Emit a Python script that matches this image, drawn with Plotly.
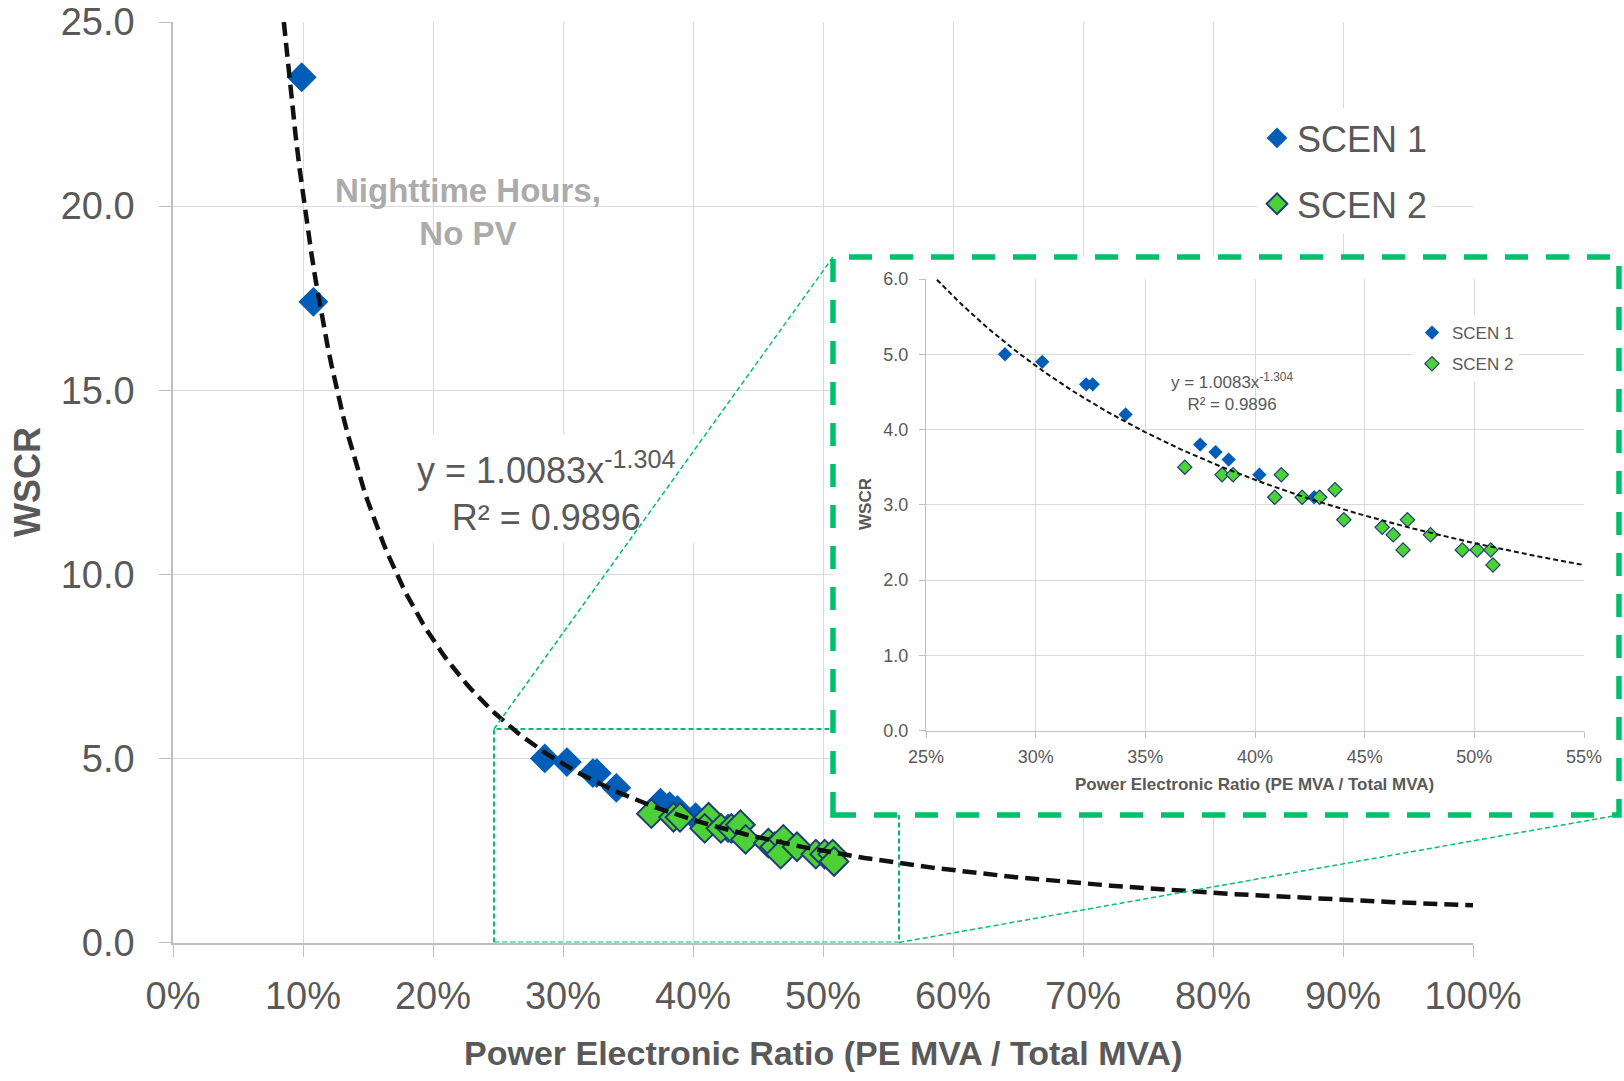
import numpy as np
import plotly.graph_objects as go

# ---------------- data ----------------
scen1_x = [0.099, 0.108, 0.286, 0.303, 0.323, 0.326, 0.341, 0.375, 0.382, 0.388, 0.402, 0.427]
scen1_y = [23.5, 17.4, 5.0, 4.9, 4.6, 4.6, 4.2, 3.8, 3.7, 3.6, 3.4, 3.1]

scen2_x = [0.368, 0.385, 0.390, 0.412, 0.409, 0.4215, 0.4295, 0.4365, 0.4405,
           0.458, 0.463, 0.4695, 0.4675, 0.480, 0.4945, 0.5013, 0.5075, 0.5085]
scen2_y = [3.5, 3.4, 3.4, 3.4, 3.1, 3.1, 3.1, 3.2, 2.8,
           2.7, 2.6, 2.8, 2.4, 2.6, 2.4, 2.4, 2.4, 2.2]

fit_a = 1.0083
fit_b = -1.304
fit_label = "y = 1.0083x<sup>-1.304</sup><br>R² = 0.9896"
series_names = ["SCEN 1", "SCEN 2"]

main_x_ticks = [i / 10 for i in range(11)]
main_y_ticks = [0, 5, 10, 15, 20, 25]
inset_x_ticks = [0.25, 0.30, 0.35, 0.40, 0.45, 0.50, 0.55]
inset_y_ticks = [0, 1, 2, 3, 4, 5, 6]

# ---------------- styling ----------------
OFF = 0                      # page body margin (removed by post_script)
W, H = 1624, 1081
BLUE = "#005EB8"
GREEN = "#4CD137"
EDGE = "#1F3C78"
BOXGREEN = "#00C06B"
TXT = "#595959"
GRID = "#D9D9D9"
AXL = "#BFBFBF"
FONT = "Liberation Sans, Arial, sans-serif"

# pixel boxes (screen coordinates)
mL, mR, mT, mB = 173, 1473, 22, 942.5
iL, iR, iT, iB = 926, 1584, 279, 730.5
bL, bR, bT, bB = 833, 1619, 257, 815  # big dashed inset frame

fx = lambda p: (p - OFF) / W
fy = lambda p: 1 - (p - OFF) / H

main_xr = [0, 1]
main_yr = [0, 25]
inset_xr = [0.25, 0.55]
inset_yr = [0, 6]


def data_from_px(px, py):
    x = main_xr[0] + (px - mL) / (mR - mL) * (main_xr[1] - main_xr[0])
    y = main_yr[0] + (mB - py) / (mB - mT) * (main_yr[1] - main_yr[0])
    return x, y


def px_from_data(x, y):
    px = mL + (x - main_xr[0]) / (main_xr[1] - main_xr[0]) * (mR - mL)
    py = mB - (y - main_yr[0]) / (main_yr[1] - main_yr[0]) * (mB - mT)
    return px, py


def cover(px0, py0, px1, py1):
    x0, y0 = data_from_px(px0, py0)
    x1, y1 = data_from_px(px1, py1)
    return go.Scatter(x=[x0, x1, x1, x0, x0], y=[y1, y1, y0, y0, y1],
                      mode="lines", fill="toself", fillcolor="white", line=dict(width=0),
                      hoverinfo="skip", showlegend=False, xaxis="x", yaxis="y")


fig = go.Figure()

# small zoom box on main chart (drawn first so the inset cover hides its upper-right part)
zx0, zy1 = data_from_px(494, 729)
zx1, _ = data_from_px(899, 942.5)
zy0 = main_yr[0]
fig.add_trace(go.Scatter(x=[zx0, zx1, zx1, zx0, zx0], y=[zy0, zy0, zy1, zy1, zy0], mode="lines",
                         line=dict(color=BOXGREEN, width=2, dash="5px,3px"),
                         hoverinfo="skip", showlegend=False, xaxis="x", yaxis="y"))

# white covers (hide main gridlines behind inset / equation box)
fig.add_trace(cover(bL, bT, W + 100, bB))
fig.add_trace(cover(398, 434, 702, 543))

# main traces
fig.add_trace(go.Scatter(x=scen1_x, y=scen1_y, mode="markers", name=series_names[0],
                         marker=dict(symbol="diamond", size=23, color=BLUE, line=dict(width=0)),
                         xaxis="x", yaxis="y", legend="legend", legendgroup="a"))
fig.add_trace(go.Scatter(x=scen2_x, y=scen2_y, mode="markers", name=series_names[1],
                         marker=dict(symbol="diamond", size=22, color=GREEN, line=dict(width=2, color=EDGE)),
                         xaxis="x", yaxis="y", legend="legend", legendgroup="b"))

x_start = (main_yr[1] / fit_a) ** (1 / fit_b)
xf = np.linspace(x_start, 1.0, 300)
fig.add_trace(go.Scatter(x=xf, y=fit_a * xf ** fit_b, mode="lines",
                         line=dict(color="#111111", width=4.5, dash="14px,7px"),
                         hoverinfo="skip", showlegend=False, xaxis="x", yaxis="y"))

# inset traces
fig.add_trace(go.Scatter(x=scen1_x, y=scen1_y, mode="markers", name=series_names[0],
                         marker=dict(symbol="diamond", size=11, color=BLUE, line=dict(width=0)),
                         xaxis="x2", yaxis="y2", legend="legend2", legendgroup="c"))
fig.add_trace(go.Scatter(x=scen2_x, y=scen2_y, mode="markers", name=series_names[1],
                         marker=dict(symbol="diamond", size=11, color=GREEN, line=dict(width=1.2, color=EDGE)),
                         xaxis="x2", yaxis="y2", legend="legend2", legendgroup="d"))
xi = np.linspace(0.255, 0.55, 200)
fig.add_trace(go.Scatter(x=xi, y=fit_a * xi ** fit_b, mode="lines",
                         line=dict(color="#111111", width=2, dash="5px,3px"),
                         hoverinfo="skip", showlegend=False, xaxis="x2", yaxis="y2"))

axis_common = dict(showline=True, linecolor=AXL, gridcolor=GRID, gridwidth=1,
                   ticks="outside", tickcolor=AXL, zeroline=False, fixedrange=True,
                   ticklabeloverflow="allow")

fig.update_layout(
    width=W, height=H,
    margin=dict(l=0, r=0, t=0, b=0),
    paper_bgcolor="white", plot_bgcolor="rgba(0,0,0,0)",
    font=dict(family=FONT, color=TXT),
    xaxis=dict(domain=[fx(mL), fx(mR)], range=main_xr, tickvals=main_x_ticks, tickformat=".0%",
               ticklen=12, linewidth=2, tickfont=dict(size=38, color=TXT), ticklabelstandoff=7,
               anchor="y", automargin=False, **axis_common),
    yaxis=dict(domain=[fy(mB), fy(mT)], range=main_yr, tickvals=main_y_ticks, tickformat=".1f",
               ticklen=12, linewidth=1.5, tickfont=dict(size=38, color=TXT), ticklabelstandoff=17,
               anchor="x", automargin=False, **axis_common),
    xaxis2=dict(domain=[fx(iL), fx(iR)], range=inset_xr, tickvals=inset_x_ticks, tickformat=".0%",
                ticklen=6, linewidth=1, tickfont=dict(size=18, color=TXT), ticklabelstandoff=4,
                anchor="y2", automargin=False, **axis_common),
    yaxis2=dict(domain=[fy(iB), fy(iT)], range=inset_yr, tickvals=inset_y_ticks, tickformat=".1f",
                ticklen=6, linewidth=1, tickfont=dict(size=18, color=TXT), ticklabelstandoff=7,
                anchor="x2", automargin=False, **axis_common),
    legend=dict(x=fx(1257), y=fy(108), xanchor="left", yanchor="top", bgcolor="white",
                font=dict(size=36, color=TXT), traceorder="grouped", tracegroupgap=16,
                itemwidth=30),
    legend2=dict(x=fx(1412), y=fy(315), xanchor="left", yanchor="top", bgcolor="white",
                 font=dict(size=17, color=TXT), traceorder="grouped", tracegroupgap=6,
                 itemwidth=30),
    showlegend=True,
)

# connectors
p1 = px_from_data(zx0, zy1)
p2 = px_from_data(zx1, zy0)
fig.add_shape(type="line", xref="paper", yref="paper", x0=fx(p1[0]), y0=fy(p1[1]), x1=fx(bL), y1=fy(bT),
              line=dict(color=BOXGREEN, width=1.5, dash="5px,3px"), layer="above")
fig.add_shape(type="line", xref="paper", yref="paper", x0=fx(p2[0]), y0=fy(p2[1]), x1=fx(bR), y1=fy(bB),
              line=dict(color=BOXGREEN, width=1.5, dash="5px,3px"), layer="above")
# big inset frame
fig.add_shape(type="rect", xref="paper", yref="paper", x0=fx(bL), x1=fx(bR), y0=fy(bB), y1=fy(bT),
              line=dict(color=BOXGREEN, width=5.5, dash="23px,18px"), layer="above")

# annotations
fig.add_annotation(xref="paper", yref="paper", x=fx(823), y=fy(1053), text="<b>Power Electronic Ratio (PE MVA / Total MVA)</b>",
                   showarrow=False, font=dict(size=34, color=TXT), xanchor="center", yanchor="middle")
fig.add_annotation(xref="paper", yref="paper", x=fx(28), y=fy(482), text="<b>WSCR</b>", textangle=-90,
                   showarrow=False, font=dict(size=36, color=TXT), xanchor="center", yanchor="middle")
fig.add_annotation(xref="paper", yref="paper", x=fx(468), y=fy(212), text="<b>Nighttime Hours,<br>No PV</b>",
                   showarrow=False, font=dict(size=33, color="#ABABAB"), xanchor="center", yanchor="middle")
fig.add_annotation(xref="paper", yref="paper", x=fx(546), y=fy(491), text=fit_label,
                   showarrow=False, font=dict(size=36, color=TXT), xanchor="center", yanchor="middle")
fig.add_annotation(xref="paper", yref="paper", x=fx(1254), y=fy(784), text="<b>Power Electronic Ratio (PE MVA / Total MVA)</b>",
                   showarrow=False, font=dict(size=17, color=TXT), xanchor="center", yanchor="middle")
fig.add_annotation(xref="paper", yref="paper", x=fx(866), y=fy(504), text="<b>WSCR</b>", textangle=-90,
                   showarrow=False, font=dict(size=17, color=TXT), xanchor="center", yanchor="middle")
fig.add_annotation(xref="paper", yref="paper", x=fx(1232), y=fy(392), text=fit_label,
                   showarrow=False, font=dict(size=17, color=TXT), xanchor="center", yanchor="middle")

fig.write_html("out.html", config={"displayModeBar": False},
               post_script="document.body.style.margin='0';document.body.style.overflow='hidden';")
